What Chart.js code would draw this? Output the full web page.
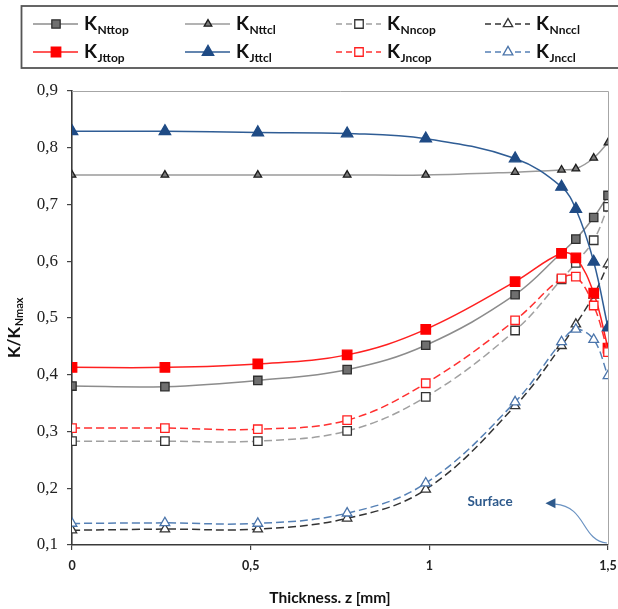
<!DOCTYPE html>
<html>
<head>
<meta charset="utf-8">
<script src="https://cdn.jsdelivr.net/npm/chart.js@4.4.1/dist/chart.umd.min.js"></script>
<style>
  html, body { margin: 0; padding: 0; background: #ffffff; }
  #wrap { position: relative; width: 618px; height: 609px; }
</style>
</head>
<body>
<div id="wrap"><canvas id="chart" width="618" height="609"></canvas></div>
<script>
// Thickness positions (mm) of the measurement points
const thickness = [0, 0.26, 0.52, 0.77, 0.99, 1.24, 1.37, 1.41, 1.46, 1.5];

// Normalised stiffness K/K_Nmax for each configuration
const KNttop = [0.380, 0.379, 0.390, 0.409, 0.452, 0.541, 0.615, 0.639, 0.677, 0.716];
const KNttcl = [0.752, 0.752, 0.752, 0.752, 0.752, 0.757, 0.761, 0.763, 0.782, 0.809];
const KNncop = [0.283, 0.283, 0.283, 0.301, 0.361, 0.478, 0.568, 0.597, 0.637, 0.696];
const KNnccl = [0.126, 0.128, 0.128, 0.147, 0.198, 0.345, 0.451, 0.489, 0.540, 0.595];
const KJttop = [0.413, 0.413, 0.419, 0.435, 0.480, 0.564, 0.614, 0.606, 0.544, 0.447];
const KJttcl = [0.829, 0.829, 0.827, 0.825, 0.816, 0.781, 0.731, 0.692, 0.599, 0.483];
const KJncop = [0.306, 0.306, 0.304, 0.320, 0.385, 0.496, 0.570, 0.573, 0.522, 0.440];
const KJnccl = [0.138, 0.139, 0.138, 0.156, 0.209, 0.352, 0.458, 0.480, 0.462, 0.398];

// Subscripts of the series names (K_sub)
const seriesSubs = ['Nttop', 'Nttcl', 'Nncop', 'Nnccl', 'Jttop', 'Jttcl', 'Jncop', 'Jnccl'];
const seriesValues = [KNttop, KNttcl, KNncop, KNnccl, KJttop, KJttcl, KJncop, KJnccl];

// Axis ranges and tick steps
const xRange = [0, 1.5], xStep = 0.5;
const yRange = [0.1, 0.9], yStep = 0.1;

const DASH = [8, 4];
const styles = [
  { line: '#8c8c8c', dash: [],   point: 'rect',     r: 5.9, fill: '#6f6f6f', stroke: '#2e2e2e' },
  { line: '#9a9a9a', dash: [],   point: 'triangle', r: 4.4, fill: '#7a7a7a', stroke: '#1e1e1e' },
  { line: '#a0a0a0', dash: DASH, point: 'rect',     r: 6.0, fill: '#ffffff', stroke: '#333333' },
  { line: '#333333', dash: DASH, point: 'triangle', r: 5.4, fill: '#ffffff', stroke: '#333333' },
  { line: '#ff2020', dash: [],   point: 'rect',     r: 6.7, fill: '#ff0000', stroke: '#ff0000' },
  { line: '#2f5d95', dash: [],   point: 'triangle', r: 6.6, fill: '#1f4b85', stroke: '#1f4b85' },
  { line: '#ff3030', dash: DASH, point: 'rect',     r: 6.0, fill: '#ffffff', stroke: '#ff2020' },
  { line: '#5580b5', dash: DASH, point: 'triangle', r: 5.6, fill: '#ffffff', stroke: '#4a74aa' }
];

const datasets = seriesValues.map((vals, i) => {
  const s = styles[i];
  return {
    label: 'K' + seriesSubs[i],
    data: vals.map((v, j) => ({ x: thickness[j], y: v })),
    borderColor: s.line,
    borderWidth: 1.5,
    borderDash: s.dash,
    tension: 0.38,
    pointStyle: s.point,
    pointRadius: s.r,
    pointHoverRadius: s.r,
    pointBackgroundColor: s.fill,
    pointBorderColor: s.stroke,
    pointBorderWidth: 1.3,
    fill: false,
    order: seriesValues.length - i
  };
});

const fmt = v => (Math.round(v * 10) / 10).toString().replace('.', ',');

function drawMarker(ctx, style, x, y, r, fill, stroke, lw) {
  ctx.save();
  ctx.beginPath();
  if (style === 'rect') {
    const s = Math.SQRT1_2 * r;
    ctx.rect(x - s, y - s, 2 * s, 2 * s);
  } else {
    let a = 0;
    ctx.moveTo(x + Math.sin(a) * r, y - Math.cos(a) * r);
    a += 2 * Math.PI / 3;
    ctx.lineTo(x + Math.sin(a) * r, y - Math.cos(a) * r);
    a += 2 * Math.PI / 3;
    ctx.lineTo(x + Math.sin(a) * r, y - Math.cos(a) * r);
    ctx.closePath();
  }
  ctx.fillStyle = fill;
  ctx.fill();
  ctx.lineWidth = lw;
  ctx.strokeStyle = stroke;
  ctx.setLineDash([]);
  ctx.stroke();
  ctx.restore();
}

// Text with a subscript part, drawn left to right from (x, baseline)
function drawSubText(ctx, main, sub, x, y, mainFont, subFont, subDrop, color) {
  ctx.fillStyle = color;
  ctx.textBaseline = 'alphabetic';
  ctx.textAlign = 'left';
  ctx.font = mainFont;
  ctx.fillText(main, x, y);
  const w = ctx.measureText(main).width;
  ctx.font = subFont;
  ctx.fillText(sub, x + w + 0.5, y + subDrop);
  const w2 = ctx.measureText(sub).width;
  return w + w2;
}

const decorations = {
  id: 'decorations',
  beforeDatasetsDraw(chart) {
    const { ctx, chartArea: a } = chart;
    ctx.save();
    ctx.strokeStyle = '#a6a6a6';
    ctx.lineWidth = 1;
    ctx.beginPath();
    ctx.moveTo(a.left, a.top + 0.5);
    ctx.lineTo(a.right + 0.5, a.top + 0.5);
    ctx.lineTo(a.right + 0.5, a.bottom);
    ctx.stroke();
    ctx.restore();
  },
  afterDatasetsDraw(chart) {
    const { ctx, scales: { x, y } } = chart;
    const P = (dx, dy) => [x.getPixelForValue(dx), y.getPixelForValue(dy)];
    ctx.save();
    // "Surface" callout
    const [tx, ty] = P(1.17, 0.176);
    ctx.font = 'bold 13.5px Lato, "Open Sans", sans-serif';
    ctx.fillStyle = '#2e5a8c';
    ctx.textAlign = 'center';
    ctx.textBaseline = 'middle';
    ctx.fillText('Surface', tx, ty);
    const p0 = P(1.497, 0.1035), c1 = P(1.425, 0.108), c2 = P(1.44, 0.168), p1 = P(1.352, 0.172);
    ctx.strokeStyle = '#6a92c2';
    ctx.lineWidth = 1.2;
    ctx.beginPath();
    ctx.moveTo(p0[0], p0[1]);
    ctx.bezierCurveTo(c1[0], c1[1], c2[0], c2[1], p1[0], p1[1]);
    ctx.stroke();
    const tip = P(1.325, 0.1735);
    ctx.fillStyle = '#2e5a8c';
    ctx.beginPath();
    ctx.moveTo(tip[0], tip[1]);
    ctx.lineTo(tip[0] + 10, tip[1] - 5);
    ctx.lineTo(tip[0] + 10, tip[1] + 5);
    ctx.closePath();
    ctx.fill();
    ctx.restore();
  },
  afterDraw(chart) {
    const { ctx, chartArea: a } = chart;
    ctx.save();
    // Legend frame
    ctx.strokeStyle = '#555555';
    ctx.lineWidth = 1.8;
    ctx.strokeRect(21.5, 6, 640, 62);
    const colX = [33, 185, 336, 485];
    const rowY = [24, 52];
    chart.data.datasets.forEach((ds, i) => {
      const s = styles[i];
      const cx = colX[i % 4], cy = rowY[Math.floor(i / 4)];
      ctx.save();
      ctx.strokeStyle = s.line;
      ctx.lineWidth = 1.5;
      ctx.setLineDash(s.dash.length ? [6, 4] : []);
      ctx.beginPath();
      ctx.moveTo(cx, cy);
      ctx.lineTo(cx + 45, cy);
      ctx.stroke();
      ctx.restore();
      drawMarker(ctx, s.point, cx + 23, cy, s.r, s.fill, s.stroke, 1.3);
      drawSubText(ctx, 'K', seriesSubs[i], cx + 51, cy + 6,
        'bold 19px Lato, "Open Sans", sans-serif',
        'bold 12px Lato, "Open Sans", sans-serif', 4, '#111111');
    });
    // x axis title
    ctx.font = 'bold 15.5px Lato, "Open Sans", sans-serif';
    ctx.fillStyle = '#111111';
    ctx.textAlign = 'center';
    ctx.textBaseline = 'alphabetic';
    ctx.fillText('Thickness. z [mm]', 330, 603);
    // y axis title (rotated)
    ctx.translate(20, 328);
    ctx.rotate(-Math.PI / 2);
    ctx.font = 'bold 17px Lato, "Open Sans", sans-serif';
    const w1 = ctx.measureText('K/K').width;
    ctx.font = 'bold 11px Lato, "Open Sans", sans-serif';
    const w2 = ctx.measureText('Nmax').width;
    drawSubText(ctx, 'K/K', 'Nmax', -(w1 + w2) / 2, 0,
      'bold 17px Lato, "Open Sans", sans-serif',
      'bold 11px Lato, "Open Sans", sans-serif', 3, '#111111');
    ctx.restore();
  }
};

new Chart(document.getElementById('chart'), {
  type: 'line',
  data: { datasets },
  options: {
    responsive: false,
    animation: false,
    events: [],
    layout: { padding: { top: 91, right: 10, left: 0, bottom: 0 } },
    plugins: { legend: { display: false }, tooltip: { enabled: false } },
    scales: {
      x: {
        type: 'linear',
        min: xRange[0], max: xRange[1],
        afterFit(scale) { scale.height = 64; scale.paddingRight = 0; scale.paddingLeft = 0; },
        ticks: {
          stepSize: xStep,
          callback: v => fmt(v),
          font: { family: 'Lato, "Open Sans", sans-serif', size: 12.5, weight: 'bold' },
          color: '#222222',
          padding: 8,
          maxRotation: 0
        },
        grid: { drawOnChartArea: false, tickLength: 5, color: '#444444', lineWidth: 1.2 },
        border: { color: '#3a3a3a', width: 1.6 }
      },
      y: {
        min: yRange[0], max: yRange[1],
        afterFit(scale) { scale.width = 72; scale.paddingTop = 0; scale.paddingBottom = 0; },
        ticks: {
          stepSize: yStep,
          callback: v => fmt(v),
          font: { family: '"Liberation Serif", "DejaVu Serif", serif', size: 17 },
          color: '#222222',
          padding: 9
        },
        grid: { drawOnChartArea: false, tickLength: 5, color: '#444444', lineWidth: 1.2 },
        border: { color: '#3a3a3a', width: 1.6 }
      }
    }
  },
  plugins: [decorations]
});
</script>
</body>
</html>
